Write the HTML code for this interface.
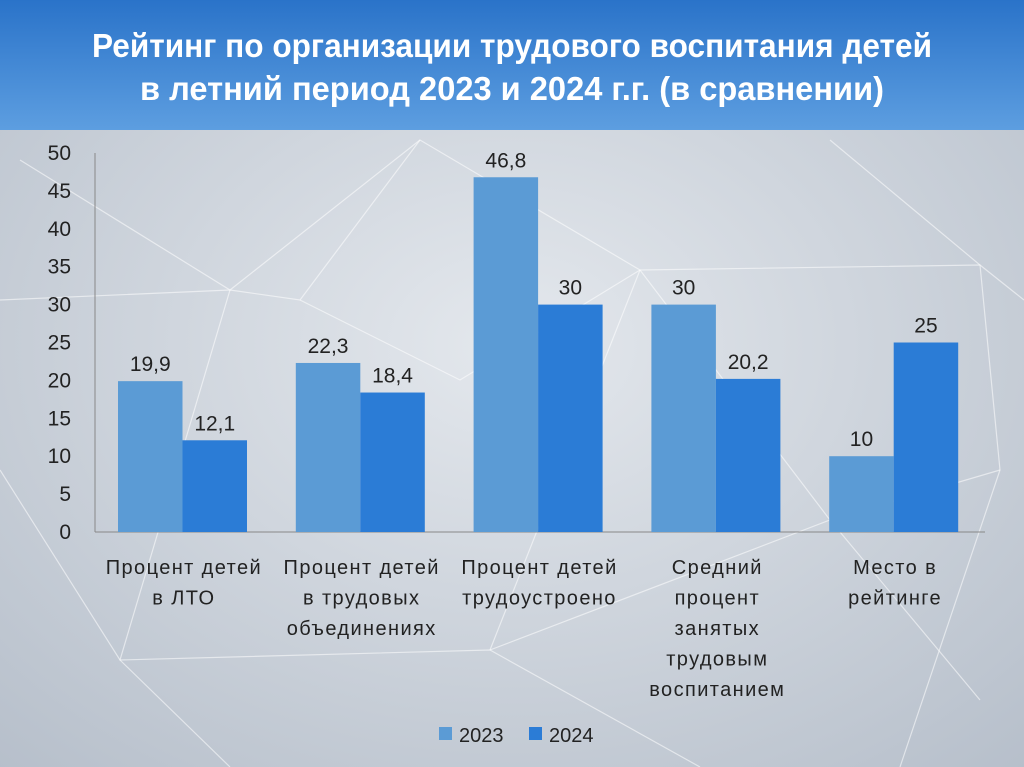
<!DOCTYPE html>
<html><head><meta charset="utf-8"><style>
body{margin:0;width:1024px;height:767px;overflow:hidden;font-family:"Liberation Sans",sans-serif}
#bg{position:absolute;left:0;top:0}
</style></head><body>
<svg id="bg" width="1024" height="767">
<defs>
<linearGradient id="hdr" x1="0" y1="0" x2="0" y2="1"><stop offset="0" stop-color="#2a73c9"/><stop offset="1" stop-color="#5d9ee0"/></linearGradient>
<radialGradient id="bgg" cx="0.5" cy="0.45" r="0.8"><stop offset="0" stop-color="#e4e8ed"/><stop offset="1" stop-color="#b3bcc8"/></radialGradient>
</defs>
<rect width="1024" height="767" fill="url(#bgg)"/>
<g stroke="#ffffff" stroke-opacity="0.55" stroke-width="1.2" fill="none">
<path d="M20 160 L230 290 L300 300 L420 140 L640 270 L980 265 L1024 300"/>
<path d="M230 290 L120 660 L230 767"/>
<path d="M300 300 L460 380 L640 270 L830 520 L1000 470"/>
<path d="M0 470 L120 660 L490 650 L700 767"/>
<path d="M490 650 L640 270"/>
<path d="M830 140 L980 265 L1000 470 L900 767"/>
<path d="M420 140 L230 290 L0 300"/>
<path d="M490 650 L830 520 L980 700"/>
</g>
<rect width="1024" height="130" fill="url(#hdr)"/>
<text x="512" y="57" fill="#fff" font-size="33" font-weight="bold" text-anchor="middle" textLength="840" lengthAdjust="spacingAndGlyphs">Рейтинг по организации трудового воспитания детей</text>
<text x="512" y="100" fill="#fff" font-size="33" font-weight="bold" text-anchor="middle" textLength="744" lengthAdjust="spacingAndGlyphs">в летний период 2023 и 2024 г.г. (в сравнении)</text>
<g id="chart"></g>
</svg>
<script>
const categories=[["Процент детей","в ЛТО"],["Процент детей","в трудовых","объединениях"],["Процент детей","трудоустроено"],["Средний","процент","занятых","трудовым","воспитанием"],["Место в","рейтинге"]];
const values2023=[19.9,22.3,46.8,30,10];
const values2024=[12.1,18.4,30,20.2,25];
const labels2023=["19,9","22,3","46,8","30","10"];
const labels2024=["12,1","18,4","30","20,2","25"];
const yTicks=[0,5,10,15,20,25,30,35,40,45,50];
const NS="http://www.w3.org/2000/svg";
const g=document.getElementById('chart');
const x0=95,y0=532,yTop=153,groupW=177.8,barW=64.5,off=23;
const y=v=>y0-(y0-yTop)*v/50;
const gx=i=>x0+i*groupW;
function mk(t,a,txt){const e=document.createElementNS(NS,t);for(const k in a)e.setAttribute(k,a[k]);if(txt!=null)e.textContent=txt;g.appendChild(e);return e;}
let e=mk('line',{x1:x0,y1:yTop,x2:x0,y2:y0,stroke:'#888','stroke-width':1});


e=mk('line',{x1:x0,y1:y0,x2:985,y2:y0,stroke:'#888','stroke-width':1});


yTicks.forEach(t=>{
 const el=mk('text',{x:71,y:y(t)+7,'font-size':21,'text-anchor':'end',fill:'#222'},String(t));
 
 
});
categories.forEach((c,i)=>{
 const bx=gx(i)+off;
 const b1=mk('rect',{x:bx,y:y(values2023[i]),width:barW,height:y0-y(values2023[i]),fill:'#5b9bd5'});
 
 
 const b2=mk('rect',{x:bx+barW,y:y(values2024[i]),width:barW,height:y0-y(values2024[i]),fill:'#2b7cd6'});
 
 
 const l1=mk('text',{x:bx+barW/2,y:y(values2023[i])-10,'font-size':21,'text-anchor':'middle',fill:'#222'},labels2023[i]);
 
 
 const l2=mk('text',{x:bx+barW*1.5,y:y(values2024[i])-10,'font-size':21,'text-anchor':'middle',fill:'#222'},labels2024[i]);
 
 
 c.forEach((ln,j)=>{
  const t=mk('text',{x:gx(i)+groupW/2,y:574+j*30.5,'font-size':20,'letter-spacing':1.4,'text-anchor':'middle',fill:'#222'},ln);
  
  
 });
});
e=mk('rect',{x:439,y:727,width:13,height:13,fill:'#5b9bd5'});


e=mk('text',{x:459,y:742,'font-size':20,fill:'#222'},'2023');


e=mk('rect',{x:529,y:727,width:13,height:13,fill:'#2b7cd6'});


e=mk('text',{x:549,y:742,'font-size':20,fill:'#222'},'2024');


</script>
</body></html>
